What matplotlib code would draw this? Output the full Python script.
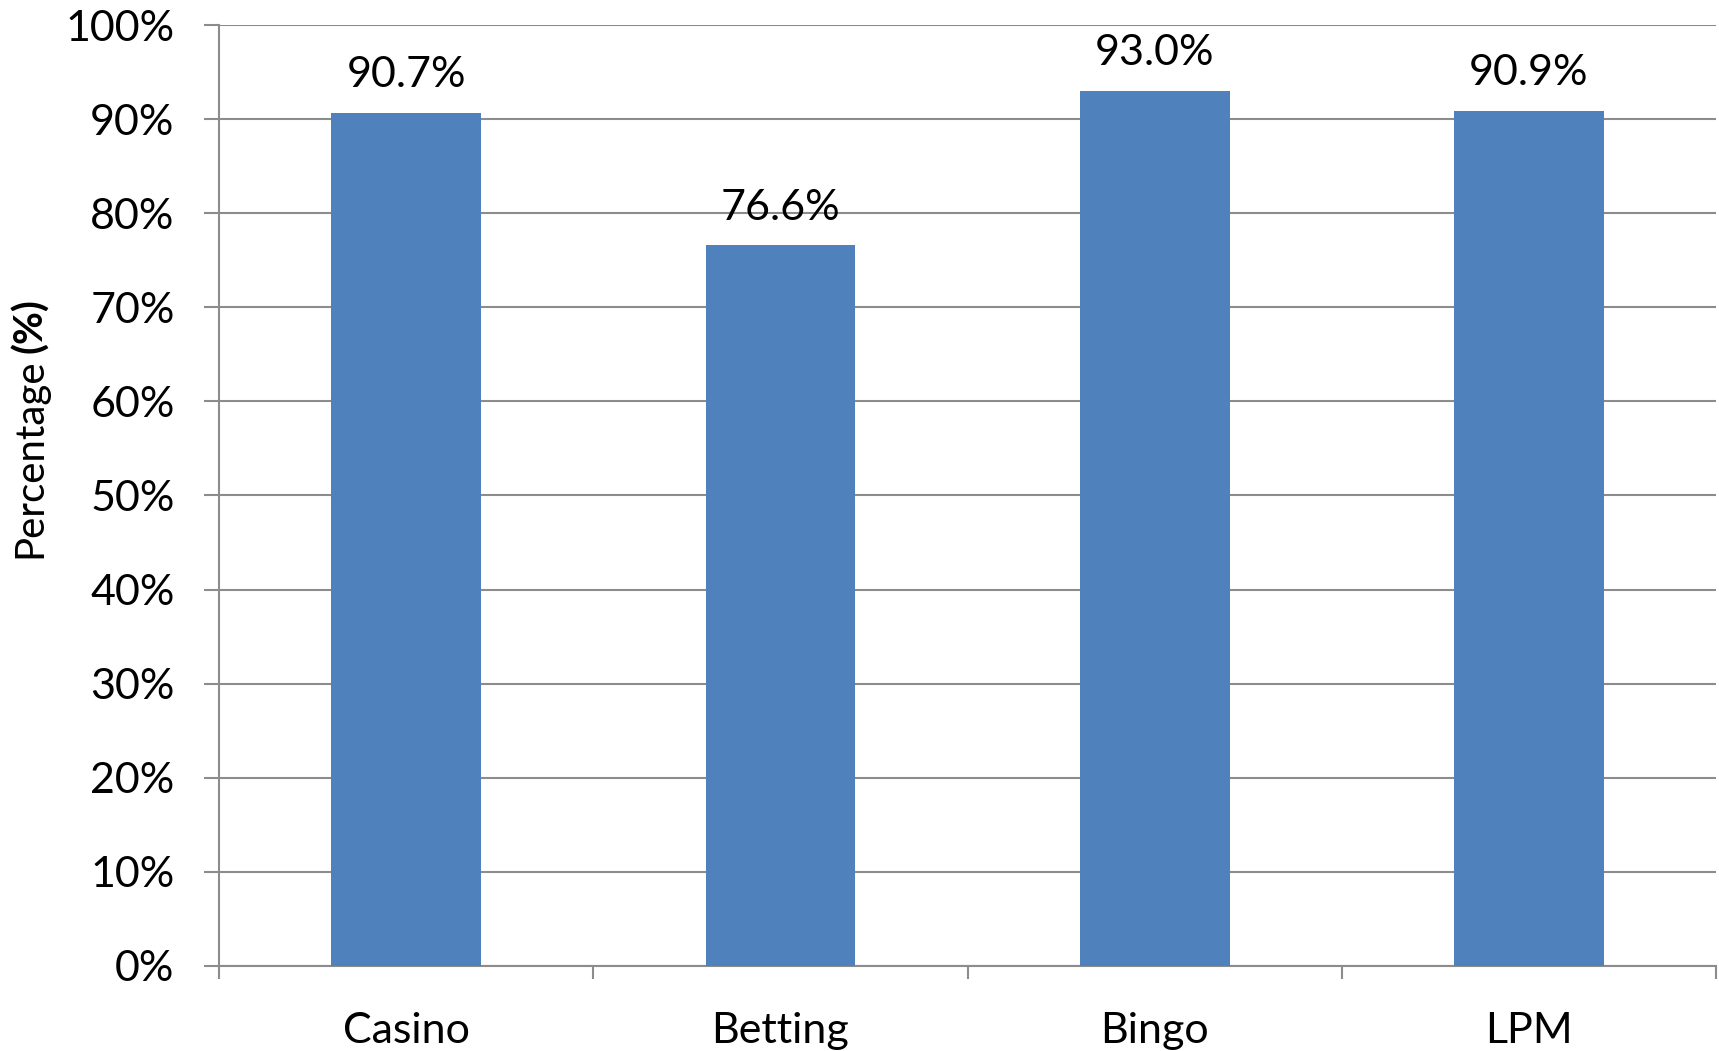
import numpy as np
import matplotlib.pyplot as plt
from matplotlib.ticker import PercentFormatter

# dados
categories = ['Casino', 'Betting', 'Bingo', 'LPM']
values = [90.7, 76.6, 93.0, 90.9]
yticks = [0, 10, 20, 30, 40, 50, 60, 70, 80, 90, 100]

plt.rcParams['font.family'] = ['Lato', 'DejaVu Sans']
grid_color = '#8c8c8c'
bar_color = '#4f81bd'

fig = plt.figure(figsize=(17.19, 10.51), dpi=100)
ax = fig.add_axes([0.1274, 0.0809, 0.8709, 0.8953])

x = np.arange(len(categories)) + 0.5
ax.bar(x, values, width=0.4, color=bar_color, zorder=3)

# rótulos de valor acima das barras
for xi, v in zip(x, values):
    ax.annotate(f'{v:.1f}%', (xi, v), xytext=(0, 18.5), textcoords='offset points',
                ha='center', va='baseline', fontsize=31, zorder=4)

ax.set_xlim(0, len(categories))
ax.set_ylim(0, 100)
ax.set_yticks(yticks)
ax.yaxis.set_major_formatter(PercentFormatter(decimals=0))
ax.grid(axis='y', color=grid_color, linewidth=1.5, zorder=0)

# ticks do eixo x nos limites das categorias, nomes no meio
ax.set_xticks(np.arange(len(categories) + 1))
ax.set_xticklabels([])
ax.set_xticks(x, minor=True)
ax.set_xticklabels(categories, minor=True, fontsize=31)
ax.tick_params(axis='x', which='major', length=9.5, width=1.5, color=grid_color)
ax.tick_params(axis='x', which='minor', length=0, pad=33)
ax.tick_params(axis='y', length=11, width=1.5, color=grid_color, labelsize=31, pad=21)

for s in ['top', 'right']:
    ax.spines[s].set_visible(False)
for s in ['left', 'bottom']:
    ax.spines[s].set_color(grid_color)
    ax.spines[s].set_linewidth(1.5)

# rótulo do eixo y com "(%)" em negrito
fig.text(0.0175, 0.469, 'Percentage', rotation=90, ha='center', va='bottom', fontsize=29)
fig.text(0.0175, 0.716, '(%)', rotation=90, ha='center', va='top', fontsize=29, fontweight='bold')

fig.savefig('out.png', dpi=100)
